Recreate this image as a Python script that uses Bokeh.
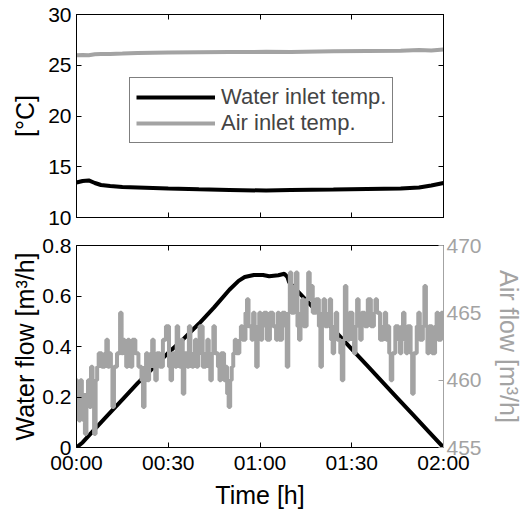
from bokeh.plotting import figure
from bokeh.models import Range1d, LinearAxis, FixedTicker
from bokeh.layouts import column
from bokeh.embed import file_html
from bokeh.resources import INLINE

FONT = "Liberation Sans"
GRAY = "#a3a3a3"

# ---------------- data ----------------
time_ticks = [0, 30, 60, 90, 120]
time_labels = ["00:00", "00:30", "01:00", "01:30", "02:00"]

# top panel: inlet temperatures [°C] vs time [min]
t_temp = [0, 2, 4, 6, 8, 11, 15, 20, 30, 40, 50, 62, 70, 84, 95, 106, 112, 116, 120]
water_temp = [13.45, 13.6, 13.65, 13.4, 13.2, 13.1, 13.0, 12.95, 12.85, 12.78, 12.72, 12.65,
              12.7, 12.75, 12.8, 12.85, 12.95, 13.15, 13.4]
air_temp = [25.98, 26.0, 25.98, 26.08, 26.12, 26.12, 26.15, 26.2, 26.25, 26.28, 26.3, 26.32,
            26.3, 26.38, 26.4, 26.42, 26.5, 26.45, 26.55]

# bottom panel: water flow [m3/h]
t_water = [0, 2, 5, 10, 15, 20, 25, 30, 35, 40, 45, 50, 53, 55, 58, 61, 63, 66, 68, 69, 69.5,
           75, 80, 85, 90, 95, 100, 105, 110, 115, 120]
water_flow = [0.0, 0.02, 0.06, 0.125, 0.19, 0.255, 0.315, 0.375, 0.43, 0.49, 0.555, 0.625, 0.66,
              0.675, 0.683, 0.683, 0.678, 0.682, 0.688, 0.675, 0.655, 0.585, 0.52, 0.455, 0.39,
              0.325, 0.26, 0.195, 0.13, 0.065, 0.0]

# bottom panel: air flow [m3/h], one reading every half minute (0 ... 120 min)
t_air = [i * 0.5 for i in range(241)]
air_flow = [
    460, 458, 457, 460, 459, 457, 456, 459, 460, 458, 461, 459, 456, 460, 461, 462, 462, 461, 461, 462,
    463, 461, 462, 461, 458, 461, 461, 462, 462, 465, 462, 463, 462, 461, 463, 462, 461, 463, 463, 462,
    462, 461, 461, 460, 458, 461, 462, 460, 461, 462, 463, 461, 460, 462, 462, 461, 461, 463, 463, 464,
    464, 461, 460, 462, 462, 461, 464, 462, 461, 463, 459, 462, 462, 461, 464, 462, 461, 462, 463, 461,
    462, 464, 464, 461, 461, 462, 463, 461, 460, 462, 464, 462, 462, 461, 460, 462, 462, 460, 461, 459,
    458, 460, 461, 462, 463, 462, 462, 463, 464, 463, 463, 465, 466, 464, 464, 463, 465, 464, 461, 464,
    465, 463, 464, 465, 465, 463, 463, 465, 465, 464, 464, 463, 465, 463, 463, 465, 465, 464, 461, 465,
    468, 465, 465, 467, 468, 464, 463, 465, 466, 464, 464, 466, 468, 466, 467, 465, 465, 466, 466, 464,
    461, 465, 466, 464, 464, 465, 466, 463, 462, 464, 465, 463, 463, 462, 460, 463, 467, 464, 463, 465,
    465, 463, 462, 464, 466, 464, 463, 465, 465, 464, 464, 466, 466, 464, 464, 465, 466, 465, 465, 463,
    463, 464, 465, 463, 464, 462, 460, 462, 462, 464, 464, 463, 462, 464, 465, 463, 462, 464, 464, 462,
    459, 462, 462, 464, 465, 463, 463, 464, 467, 464, 462, 464, 464, 462, 462, 464, 465, 463, 463, 465,
    464,
]


def style_axis(ax, color="black", labels=True):
    ax.axis_line_color = color
    ax.major_tick_line_color = color
    ax.major_tick_in = 5
    ax.major_tick_out = 0
    ax.minor_tick_line_color = None
    ax.major_label_text_font = FONT
    ax.major_label_text_color = color
    ax.axis_label_text_font = FONT
    ax.axis_label_text_font_style = "normal"
    ax.axis_label_text_color = color
    ax.axis_label_text_font_size = "25px"
    ax.major_label_text_font_size = "21px"
    if not labels:
        ax.major_label_overrides = {t: "" for t in ax.ticker.ticks}
        ax.major_label_text_font_size = "1px"
        ax.major_label_standoff = 0


# ---------------- top figure ----------------
p1 = figure(frame_width=367, frame_height=203, output_backend="svg", toolbar_location=None,
            x_range=Range1d(0, 120), y_range=Range1d(10, 30),
            min_border_left=76, min_border_right=84, min_border_top=14, min_border_bottom=13)
p1.grid.visible = False
p1.outline_line_color = "black"
p1.background_fill_color = "white"

p1.line(t_temp, water_temp, line_color="black", line_width=4, legend_label="Water inlet temp.")
p1.line(t_temp, air_temp, line_color=GRAY, line_width=4, legend_label="Air inlet temp.")

p1.xaxis.ticker = FixedTicker(ticks=time_ticks)
style_axis(p1.xaxis[0], labels=False)
p1.yaxis.ticker = FixedTicker(ticks=[10, 15, 20, 25, 30])
style_axis(p1.yaxis[0])
p1.yaxis.axis_label = "[°C]"
p1.yaxis.axis_label_standoff = 6
p1.yaxis.major_label_standoff = 5

top_ax = LinearAxis(ticker=FixedTicker(ticks=time_ticks))
style_axis(top_ax, labels=False)
p1.add_layout(top_ax, "above")
right_ax1 = LinearAxis(ticker=FixedTicker(ticks=[10, 15, 20, 25, 30]))
style_axis(right_ax1, labels=False)
p1.add_layout(right_ax1, "right")

lg = p1.legend[0]
lg.location = (53, 74)
lg.border_line_color = "black"
lg.border_line_width = 1
lg.background_fill_alpha = 1
lg.label_text_font = FONT
lg.label_text_font_size = "22px"
lg.glyph_width = 79
lg.glyph_height = 26
lg.label_height = 26
lg.label_standoff = 6
lg.spacing = 0
lg.padding = 6
lg.margin = 0

# ---------------- bottom figure ----------------
p2 = figure(frame_width=367, frame_height=202, output_backend="svg", toolbar_location=None,
            x_range=Range1d(0, 120), y_range=Range1d(0, 0.8),
            min_border_left=76, min_border_right=84, min_border_top=15, min_border_bottom=60)
p2.grid.visible = False
p2.outline_line_color = None
p2.extra_y_ranges = {"air": Range1d(455, 470)}

p2.line(t_water, water_flow, line_color="black", line_width=4)
p2.step(t_air, air_flow, mode="center", line_color=GRAY, line_width=4, y_range_name="air")

p2.xaxis.ticker = FixedTicker(ticks=time_ticks)
p2.xaxis.major_label_overrides = {t: s for t, s in zip(time_ticks, time_labels)}
style_axis(p2.xaxis[0])
p2.xaxis.axis_label = "Time [h]"
p2.xaxis.major_label_standoff = 3
p2.xaxis.axis_label_standoff = 4

p2.yaxis.ticker = FixedTicker(ticks=[0, 0.2, 0.4, 0.6, 0.8])
p2.yaxis.major_label_overrides = {0: "0"}
style_axis(p2.yaxis[0])
p2.yaxis.axis_label = "Water flow [m³/h]"
p2.yaxis.axis_label_standoff = 0
p2.yaxis.major_label_standoff = 5

top_ax2 = LinearAxis(ticker=FixedTicker(ticks=time_ticks))
style_axis(top_ax2, labels=False)
p2.add_layout(top_ax2, "above")

right_ax2 = LinearAxis(y_range_name="air", ticker=FixedTicker(ticks=[455, 460, 465, 470]),
                       axis_label="Air flow [m³/h]")
style_axis(right_ax2, color=GRAY)
right_ax2.major_label_standoff = 3
right_ax2.axis_label_standoff = 10
p2.add_layout(right_ax2, "right")

layout = column(p1, p2, spacing=0)
open("out.html", "w").write(file_html(layout, INLINE))
